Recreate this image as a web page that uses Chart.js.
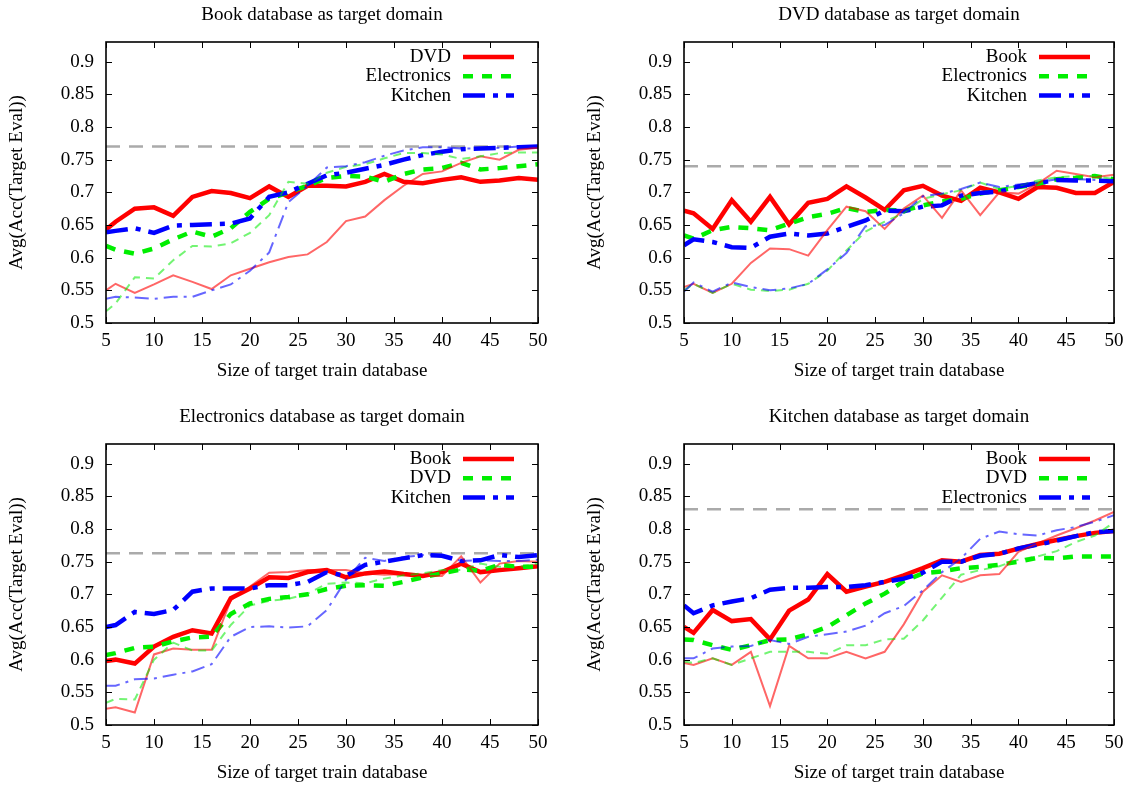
<!DOCTYPE html>
<html><head><meta charset="utf-8">
<script src="https://cdn.jsdelivr.net/npm/chart.js@4.4.1/dist/chart.umd.min.js"></script>
<style>
html,body{margin:0;padding:0;background:#fff;overflow:hidden;}
#wrap{position:relative;width:1135px;height:787px;overflow:hidden;background:#fff;}
.cell{position:absolute;}
canvas{display:block;}
</style></head><body>
<div id="wrap">
<div class="cell" style="left:0px;top:0px;"><canvas id="c1" width="567" height="393"></canvas></div>
<div class="cell" style="left:578px;top:0px;"><canvas id="c2" width="557" height="393"></canvas></div>
<div class="cell" style="left:0px;top:402px;"><canvas id="c3" width="567" height="393"></canvas></div>
<div class="cell" style="left:578px;top:402px;"><canvas id="c4" width="557" height="393"></canvas></div>
</div>
<script>
// ---------- data ----------
const xSizes = [5,6,8,10,12,14,16,18,20,22,24,26,28,30,32,34,36,38,40,42,44,46,48,50];
const xTicks = [5,10,15,20,25,30,35,40,45,50];
const yTicks = [0.5,0.55,0.6,0.65,0.7,0.75,0.8,0.85,0.9];

// Book as target domain
const bookFromDVD        = [0.643,0.655,0.675,0.677,0.664,0.693,0.702,0.699,0.691,0.709,0.693,0.710,0.710,0.709,0.716,0.728,0.716,0.714,0.719,0.723,0.716,0.718,0.722,0.719];
const bookFromElec       = [0.618,0.612,0.606,0.614,0.628,0.640,0.632,0.645,0.670,0.690,0.700,0.710,0.722,0.725,0.724,0.716,0.728,0.735,0.737,0.745,0.735,0.737,0.740,0.743];
const bookFromKitchen    = [0.639,0.641,0.645,0.638,0.649,0.650,0.651,0.652,0.660,0.693,0.700,0.713,0.726,0.730,0.736,0.742,0.750,0.757,0.762,0.766,0.767,0.768,0.769,0.770];
const bookFromDVDThin    = [0.550,0.560,0.546,0.559,0.573,0.563,0.552,0.573,0.583,0.593,0.601,0.605,0.624,0.656,0.663,0.688,0.710,0.728,0.732,0.745,0.755,0.750,0.765,0.768];
const bookFromElecThin   = [0.518,0.530,0.570,0.568,0.596,0.618,0.617,0.622,0.638,0.665,0.716,0.713,0.730,0.739,0.743,0.752,0.760,0.760,0.758,0.751,0.755,0.760,0.761,0.761];
const bookFromKitchenThin= [0.537,0.540,0.539,0.537,0.540,0.540,0.550,0.559,0.580,0.608,0.685,0.710,0.738,0.740,0.746,0.756,0.764,0.769,0.769,0.767,0.767,0.768,0.770,0.770];
const bookRef = 0.77;

// DVD as target domain
const dvdFromBook        = [0.672,0.668,0.644,0.688,0.655,0.693,0.651,0.684,0.690,0.709,0.692,0.673,0.703,0.710,0.695,0.687,0.707,0.700,0.690,0.708,0.707,0.699,0.699,0.716];
const dvdFromElec        = [0.634,0.629,0.642,0.647,0.645,0.642,0.652,0.662,0.667,0.676,0.670,0.673,0.672,0.680,0.686,0.690,0.698,0.703,0.708,0.713,0.720,0.722,0.725,0.720];
const dvdFromKitchen     = [0.619,0.628,0.624,0.616,0.615,0.632,0.637,0.634,0.637,0.647,0.657,0.672,0.671,0.678,0.680,0.695,0.699,0.701,0.709,0.714,0.719,0.718,0.718,0.717];
const dvdFromBookThin    = [0.555,0.560,0.546,0.560,0.592,0.614,0.613,0.603,0.642,0.678,0.671,0.644,0.675,0.695,0.661,0.703,0.665,0.700,0.698,0.713,0.733,0.728,0.723,0.727];
const dvdFromElecThin    = [0.550,0.560,0.546,0.560,0.551,0.549,0.551,0.560,0.580,0.611,0.640,0.655,0.668,0.690,0.697,0.703,0.715,0.705,0.710,0.718,0.723,0.725,0.725,0.720];
const dvdFromKitchenThin = [0.548,0.562,0.548,0.562,0.555,0.550,0.553,0.560,0.582,0.607,0.648,0.650,0.668,0.694,0.698,0.705,0.715,0.708,0.712,0.715,0.720,0.720,0.719,0.718];
const dvdRef = 0.74;

// Electronics as target domain
const elecFromBook        = [0.598,0.600,0.594,0.620,0.635,0.645,0.640,0.694,0.709,0.726,0.725,0.734,0.737,0.726,0.732,0.735,0.731,0.728,0.734,0.747,0.734,0.737,0.740,0.743];
const elecFromDVD         = [0.607,0.610,0.618,0.620,0.628,0.634,0.635,0.670,0.686,0.693,0.696,0.700,0.708,0.713,0.714,0.713,0.719,0.726,0.732,0.738,0.736,0.745,0.742,0.742];
const elecFromKitchen     = [0.650,0.653,0.673,0.670,0.676,0.704,0.709,0.709,0.709,0.714,0.714,0.719,0.734,0.728,0.745,0.750,0.755,0.760,0.759,0.751,0.752,0.760,0.757,0.760];
const elecFromBookThin    = [0.525,0.527,0.519,0.608,0.617,0.615,0.615,0.691,0.712,0.733,0.734,0.737,0.737,0.737,0.732,0.730,0.731,0.728,0.728,0.758,0.718,0.747,0.751,0.750];
const elecFromDVDThin     = [0.534,0.540,0.539,0.600,0.626,0.614,0.614,0.653,0.683,0.690,0.693,0.701,0.716,0.718,0.717,0.724,0.729,0.732,0.737,0.737,0.747,0.742,0.742,0.747];
const elecFromKitchenThin = [0.560,0.560,0.570,0.571,0.577,0.582,0.593,0.635,0.650,0.651,0.649,0.651,0.676,0.722,0.756,0.751,0.757,0.760,0.760,0.751,0.752,0.751,0.751,0.753];
const elecRef = 0.763;

// Kitchen as target domain
const kitFromBook        = [0.650,0.641,0.676,0.659,0.662,0.631,0.675,0.692,0.731,0.704,0.712,0.719,0.729,0.740,0.752,0.750,0.760,0.762,0.770,0.777,0.783,0.789,0.794,0.797];
const kitFromDVD         = [0.631,0.630,0.622,0.615,0.622,0.630,0.631,0.639,0.650,0.668,0.686,0.701,0.720,0.732,0.735,0.740,0.742,0.745,0.750,0.756,0.755,0.758,0.758,0.758];
const kitFromElec        = [0.683,0.671,0.683,0.689,0.694,0.707,0.710,0.710,0.711,0.711,0.714,0.719,0.724,0.733,0.750,0.750,0.759,0.762,0.770,0.776,0.782,0.789,0.795,0.797];
const kitFromBookThin    = [0.595,0.592,0.602,0.592,0.612,0.529,0.621,0.602,0.602,0.612,0.602,0.612,0.654,0.704,0.729,0.719,0.729,0.731,0.765,0.778,0.790,0.801,0.813,0.826];
const kitFromDVDThin     = [0.597,0.595,0.602,0.592,0.602,0.612,0.612,0.612,0.609,0.622,0.622,0.631,0.632,0.660,0.695,0.730,0.737,0.743,0.753,0.758,0.766,0.780,0.790,0.810];
const kitFromElecThin    = [0.602,0.602,0.617,0.620,0.621,0.630,0.624,0.635,0.639,0.643,0.652,0.671,0.682,0.706,0.734,0.755,0.785,0.796,0.792,0.790,0.798,0.803,0.811,0.821];
const kitRef = 0.83;

// ---------- drawing ----------
const FONT = "'Liberation Serif','Times New Roman',Times,serif";
const THICK = [
  {color:'#ff0000', dash:[]},
  {color:'#00ee00', dash:[10,9]},
  {color:'#0000ff', dash:[22,8,5,8]}
];
const THIN = [
  {color:'rgba(255,0,0,0.6)', dash:[]},
  {color:'rgba(0,235,0,0.55)', dash:[8,6]},
  {color:'rgba(0,0,255,0.6)', dash:[14,6,3,6]}
];

const framePlugin = {
  id:'frame',
  afterDatasetsDraw(chart){
    const ctx = chart.ctx, a = chart.chartArea;
    const xs = chart.scales.x, ys = chart.scales.y;
    const opts = chart.options.plugins.frame;
    ctx.save();
    ctx.strokeStyle = '#000';
    ctx.lineWidth = 1;
    ctx.setLineDash([]);
    ctx.beginPath();
    xTicks.forEach(v=>{
      const px = Math.round(xs.getPixelForValue(v))+0.5;
      ctx.moveTo(px,a.bottom); ctx.lineTo(px,a.bottom-6);
      ctx.moveTo(px,a.top); ctx.lineTo(px,a.top+6);
    });
    yTicks.forEach(v=>{
      const py = Math.round(ys.getPixelForValue(v))+0.5;
      ctx.moveTo(a.left,py); ctx.lineTo(a.left+6,py);
      ctx.moveTo(a.right,py); ctx.lineTo(a.right-6,py);
    });
    ctx.stroke();
    ctx.lineWidth = 1.6;
    ctx.strokeRect(a.left, a.top, a.right-a.left, a.bottom-a.top);
    ctx.font = '19px ' + FONT;
    ctx.fillStyle = '#000';
    // title centred over the plot area
    ctx.textAlign = 'center';
    ctx.textBaseline = 'middle';
    ctx.fillText(opts.title, (a.left+a.right)/2, 15);
    // legend
    ctx.textAlign = 'right';
    opts.names.forEach((n,i)=>{
      const y = a.top + 15 + i*19.3;
      ctx.fillText(n, a.right-87, y);
      const ds = chart.data.datasets[i+1];
      ctx.strokeStyle = ds.borderColor;
      ctx.lineWidth = ds.borderWidth;
      ctx.setLineDash(ds.borderDash);
      ctx.beginPath(); ctx.moveTo(a.right-75, y); ctx.lineTo(a.right-24, y); ctx.stroke();
    });
    ctx.restore();
  }
};

function line(values, style, width, order){
  return {
    data: xSizes.map((x,i)=>({x:x, y:values[i]})),
    borderColor: style.color, borderWidth: width, borderDash: style.dash,
    pointRadius: 0, tension: 0, fill: false, order: order, borderCapStyle:'butt'
  };
}

function makeChart(id, title, names, thick, thin, ref, padRight){
  const datasets = [];
  datasets.push({
    data: xSizes.map(x=>({x:x, y:ref})),
    borderColor:'#aaaaaa', borderWidth:2.5, borderDash:[14,9],
    pointRadius:0, tension:0, fill:false, order:20, borderCapStyle:'butt'
  });
  thick.forEach((v,i)=>datasets.push(line(v, THICK[i], 4.5, 10-i)));
  thin.forEach((v,i)=>datasets.push(line(v, THIN[i], 2, 5-i)));
  const tickFont = {family:FONT, size:19};
  new Chart(document.getElementById(id), {
    type:'line',
    data:{datasets},
    plugins:[framePlugin],
    options:{
      responsive:false, animation:false, devicePixelRatio:1,
      layout:{padding:{left:0,right:padRight,top:42,bottom:0}},
      plugins:{
        legend:{display:false}, tooltip:{enabled:false}, title:{display:false},
        frame:{names, title}
      },
      scales:{
        x:{
          type:'linear', min:5, max:50,
          afterBuildTicks:s=>{ s.ticks = xTicks.map(v=>({value:v})); },
          afterFit:s=>{ s.height = 70; },
          grid:{display:false, drawTicks:false}, border:{display:false},
          ticks:{color:'#000', font:tickFont, padding:7, maxRotation:0, autoSkip:false},
          title:{display:true, text:'Size of target train database', color:'#000', font:tickFont, padding:{top:0,bottom:11}}
        },
        y:{
          type:'linear', min:0.5, max:0.93,
          afterBuildTicks:s=>{ s.ticks = yTicks.map(v=>({value:v})); },
          afterFit:s=>{ s.width = 106; },
          grid:{display:false, drawTicks:false}, border:{display:false},
          ticks:{color:'#000', font:tickFont, padding:12, autoSkip:false, callback:v=>String(+(+v).toFixed(2))},
          title:{display:true, text:'Avg(Acc(Target Eval))', color:'#000', font:tickFont, padding:{top:6,bottom:0}}
        }
      }
    }
  });
}

makeChart('c1','Book database as target domain',['DVD','Electronics','Kitchen'],
  [bookFromDVD,bookFromElec,bookFromKitchen],[bookFromDVDThin,bookFromElecThin,bookFromKitchenThin], bookRef, 29);
makeChart('c2','DVD database as target domain',['Book','Electronics','Kitchen'],
  [dvdFromBook,dvdFromElec,dvdFromKitchen],[dvdFromBookThin,dvdFromElecThin,dvdFromKitchenThin], dvdRef, 21);
makeChart('c3','Electronics database as target domain',['Book','DVD','Kitchen'],
  [elecFromBook,elecFromDVD,elecFromKitchen],[elecFromBookThin,elecFromDVDThin,elecFromKitchenThin], elecRef, 29);
makeChart('c4','Kitchen database as target domain',['Book','DVD','Electronics'],
  [kitFromBook,kitFromDVD,kitFromElec],[kitFromBookThin,kitFromDVDThin,kitFromElecThin], kitRef, 21);
</script>
</body></html>
